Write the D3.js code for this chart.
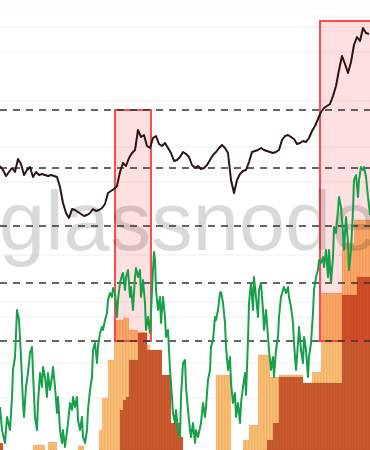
<!DOCTYPE html>
<html>
<head>
  <script src="https://cdnjs.cloudflare.com/ajax/libs/d3/7.8.5/d3.min.js"></script>
  <style>
    body { margin: 0; background: #fff; }
    svg { display: block; }
  </style>
</head>
<body>
<svg id="chart" width="370" height="450"></svg>
<script>
  // price and bands: one value every 3 days
  var price = [
    56.8, 56, 54.8, 55.6, 56.4, 55.6, 58.2, 57.2, 55, 56,
    56.6, 54.6, 55.6, 55, 55.2, 55, 54.8, 55, 54.8, 54.6,
    52.6, 49.4, 47.4, 46.4, 48.2, 48, 47.6, 47.2, 46.8, 47,
    47.4, 48.2, 47.8, 48, 48.4, 49.2, 51.4, 51.8, 52.2, 52.8,
    55.6, 57.4, 56.8, 58.4, 59.4, 60, 64, 62.6, 63, 60.8,
    60.4, 62.4, 62.8, 61.2, 60.8, 61.4, 60.4, 59.4, 57.8, 58,
    58.6, 59.6, 59.2, 58.6, 57, 56.4, 56.8, 56.2, 56.4, 57,
    58, 59, 59.6, 60.4, 61, 60.4, 59.4, 54, 51.4, 54,
    55.2, 55.8, 56, 57.6, 59.6, 59.8, 60, 60.4, 60, 59.8,
    59.6, 59.4, 59.6, 60, 62, 62.8, 63, 62.6, 62.2, 61.2,
    61.4, 61.8, 61.6, 62.4, 63.8, 64.8, 66.2, 67.6, 68.4, 68.8,
    69.2, 70.8, 72.8, 76, 78.8, 77.2, 75.4, 77.6, 81, 82.6,
    81.8, 84.4, 83.4, 83.2
  ];

  var bandLight = [
    0, 0, 0, 0, 0, 0, 0, 0, 0, 0,
    0, 1, 1, 1, 1, 0, 1.6, 1.6, 1.6, 0,
    0, 0, 0, 0, 0, 0, 0.8, 0.8, 0, 0,
    0, 0, 0, 4, 10.4, 10.4, 18, 18, 26, 26,
    26, 26.4, 26.4, 24, 24, 24, 23.6, 23.6, 23.6, 21,
    0, 0, 0, 0, 0, 0, 0, 0, 0, 0,
    0, 0, 0, 0, 0, 0, 0, 0, 0, 0,
    0, 0, 15, 15, 15, 15, 15, 0, 0, 0,
    0, 2, 2, 5, 5, 5, 19, 19, 19, 19,
    14.6, 14.6, 14.6, 15, 15, 15, 15, 15, 15, 15,
    15, 13.4, 13.4, 13.4, 15.6, 15.6, 15.6, 31.4, 31.4, 31.4,
    31.4, 31.4, 31.4, 31.4, 41.4, 41.4, 41.4, 41.4, 46, 46,
    46, 46, 46, 46
  ];

  var bandDark = [
    1.4, 0, 0, 0, 0, 0, 0, 0, 0, 0,
    0, 0, 0, 0, 0, 0, 0, 0, 0, 0,
    0, 0, 0, 0, 0, 0, 0, 0, 0, 0,
    0, 0, 0, 0, 0, 0, 0, 0, 0, 0,
    8, 10, 10.6, 18, 18, 18, 23.4, 23.4, 23.4, 20,
    20, 20, 20, 20, 15, 15, 15, 5.4, 5.4, 5.4,
    2.6, 0, 0, 0, 0, 0, 0, 0, 0, 0,
    0, 0, 0, 0, 0, 0, 0, 0, 0, 0,
    0, 0, 0, 0, 0, 0, 0, 0, 0, 2,
    2, 5.4, 5.4, 14.6, 14.6, 14.6, 14.6, 14.6, 14.6, 14.6,
    14.6, 13.4, 13.4, 13.4, 13.4, 13.4, 13.4, 13.4, 13.4, 13.4,
    13.4, 13.4, 13.4, 13.4, 31, 31, 31, 31, 31, 34.6,
    34.6, 34.6, 34.6, 34.6
  ];

  // oscillator: denser, uneven sampling
  var oscDays = [
    0, 2, 5, 7, 10, 12, 13, 15, 17, 19,
    21, 23, 24, 26, 28, 30, 32, 33, 35, 37,
    38, 40, 42, 43, 45, 47, 48, 50, 52, 53,
    55, 57, 58, 60, 62, 63, 65, 68, 70, 72,
    73, 75, 77, 78, 80, 82, 83, 85, 87, 88,
    90, 92, 93, 95, 97, 98, 100, 102, 103, 105,
    107, 108, 110, 112, 113, 115, 117, 118, 120, 122,
    123, 125, 126, 128, 130, 131, 133, 135, 136, 138,
    140, 141, 143, 145, 146, 148, 150, 151, 153, 154,
    155, 156, 158, 160, 161, 163, 165, 166, 168, 170,
    171, 173, 175, 176, 178, 180, 181, 183, 185, 186,
    188, 190, 191, 193, 195, 196, 198, 201, 203, 205,
    206, 208, 210, 211, 213, 215, 216, 218, 220, 221,
    223, 225, 226, 228, 230, 231, 233, 235, 236, 238,
    240, 241, 243, 245, 246, 248, 249, 251, 253, 254,
    256, 258, 259, 261, 263, 264, 266, 268, 269, 271,
    273, 274, 276, 278, 279, 281, 283, 284, 286, 288,
    289, 291, 293, 294, 296, 298, 299, 301, 303, 304,
    306, 308, 309, 311, 313, 314, 316, 318, 319, 321,
    323, 324, 326, 328, 329, 331, 333, 334, 336, 338,
    339, 341, 343, 344, 346, 348, 349, 351, 353, 354,
    356, 358, 359, 361, 363, 364, 366, 368, 370
  ];
  var oscValues = [
    8.6, 4, 1.4, 6.6, 4, 10.6, 16, 18.6, 28, 26,
    18.6, 9.4, 6.6, 12.6, 15.4, 19.4, 20.6, 15.4, 6.6, 4,
    9.4, 15.4, 12.6, 16.6, 14.6, 10.6, 15.4, 12, 14.6, 16.6,
    12.6, 7.4, 10.6, 4, 1.4, 4, 0.6, 5.4, 9.4, 8,
    10.6, 8.6, 10.6, 6, 4, 6.6, 2.6, 1.4, 4, 8,
    12, 14.6, 20, 21.4, 17.4, 20.6, 23.4, 24.6, 24, 26,
    27.4, 30, 31.4, 30.6, 32.4, 31.4, 26.6, 30, 33.4, 35,
    35.4, 32, 34.6, 36, 30.6, 32.6, 28, 34.6, 36.4, 34.6,
    36, 30.6, 34, 29.4, 24, 26.6, 23.4, 27.4, 36, 39.6,
    38, 32, 28, 30.6, 25.4, 30.6, 26.6, 22.6, 24, 16,
    13.4, 7.4, 5.4, 8, 4, 2.6, 10.6, 17.4, 18, 12.6,
    8, 4, 2.6, 5.4, 1.4, 4, 2.6, 5.4, 9.4, 6.6,
    8.6, 14, 16, 20.6, 22, 26.6, 26, 28, 31.4, 31.6,
    29.4, 25.4, 20.6, 16, 18.6, 13.4, 9.4, 11.4, 6.6, 9.4,
    5.4, 9.4, 12.6, 15.4, 11, 22, 29.4, 33.4, 28, 34.6,
    30.6, 26.6, 32, 33.4, 28, 24, 28, 22.6, 20, 16,
    18.6, 14.6, 20, 22.6, 26.6, 30.6, 32, 32.6, 31.4, 32.6,
    30.6, 28.6, 25.4, 21.4, 16, 21.4, 24.6, 20, 17.4, 22.6,
    20, 14.6, 18.6, 21.4, 27.4, 32, 34.6, 36, 38, 37.4,
    38.6, 36.6, 40, 34.6, 40, 33.4, 38.6, 44.6, 43.4, 48,
    50.6, 48.6, 43.4, 40, 46.6, 41.4, 36, 40, 48, 54,
    55, 50.6, 54, 56.6, 56, 56.6, 54.6, 50.6, 47
  ];

  var levels = [21.8, 33.4, 44.8, 56.4, 68];
  var gridLines = [88.4, 84.6, 79.6, 69.8, 60.6, 53.6, 39, 29.6, 26.6, 17.4, 10.4];
  // [first day, last day, low, high]
  var zones = [[115, 151, 21.8, 68], [320, 375, 21.8, 85.8]];

  var width = 370, height = 450;
  var svg = d3.select("#chart");
  var priceDays = d3.range(0, 370, 3);

  var x = d3.scaleLinear().domain([0, 370]).range([0, width]);
  var y = d3.scaleLinear().domain([0, 90]).range([height, 0]);
  var step = x(3) - x(0);

  // faint grid
  svg.append("g").selectAll("line")
    .data(gridLines)
    .enter().append("line")
    .attr("x1", 0).attr("x2", width)
    .attr("y1", d => y(d)).attr("y2", d => y(d))
    .attr("stroke", "#efefef")
    .attr("stroke-width", 1);

  // stepped bands
  function bars(data, color) {
    svg.append("g").selectAll("rect")
      .data(data)
      .enter().append("rect")
      .attr("x", (d, i) => x(priceDays[i]))
      .attr("y", d => y(d))
      .attr("width", step)
      .attr("height", d => height - y(d))
      .attr("fill", color)
      .attr("stroke", "rgba(120,40,10,0.12)")
      .attr("stroke-width", 0.6);
  }
  bars(bandLight, "#fbbf74");
  bars(bandDark, "#c95b2f");

  // highlighted zones
  svg.append("g").selectAll("rect")
    .data(zones)
    .enter().append("rect")
    .attr("x", d => x(d[0]))
    .attr("y", d => y(d[3]))
    .attr("width", d => x(d[1]) - x(d[0]))
    .attr("height", d => y(d[2]) - y(d[3]))
    .attr("fill", "rgba(255,0,0,0.12)")
    .attr("stroke", "#ff3b3b")
    .attr("stroke-width", 1.8);

  // watermark
  svg.append("text")
    .attr("x", -1)
    .attr("y", 250)
    .attr("font-family", "Liberation Sans, Arial, sans-serif")
    .attr("font-size", 83)
    .attr("fill", "#000")
    .attr("fill-opacity", 0.15)
    .text("glassnode");

  // dashed levels
  svg.append("g").selectAll("line")
    .data(levels)
    .enter().append("line")
    .attr("x1", 0).attr("x2", width)
    .attr("y1", d => y(d)).attr("y2", d => y(d))
    .attr("stroke", "#333")
    .attr("stroke-width", 1.5)
    .attr("stroke-dasharray", "7,6");

  var line = d3.line()
    .x(d => x(d[0]))
    .y(d => y(d[1]));

  svg.append("path")
    .datum(d3.zip(oscDays, oscValues))
    .attr("d", line)
    .attr("fill", "none")
    .attr("stroke", "#16a04a")
    .attr("stroke-width", 2)
    .attr("stroke-linejoin", "round");

  svg.append("path")
    .datum(d3.zip(priceDays, price))
    .attr("d", line)
    .attr("fill", "none")
    .attr("stroke", "#2b1414")
    .attr("stroke-width", 2)
    .attr("stroke-linejoin", "round");
</script>
</body>
</html>
